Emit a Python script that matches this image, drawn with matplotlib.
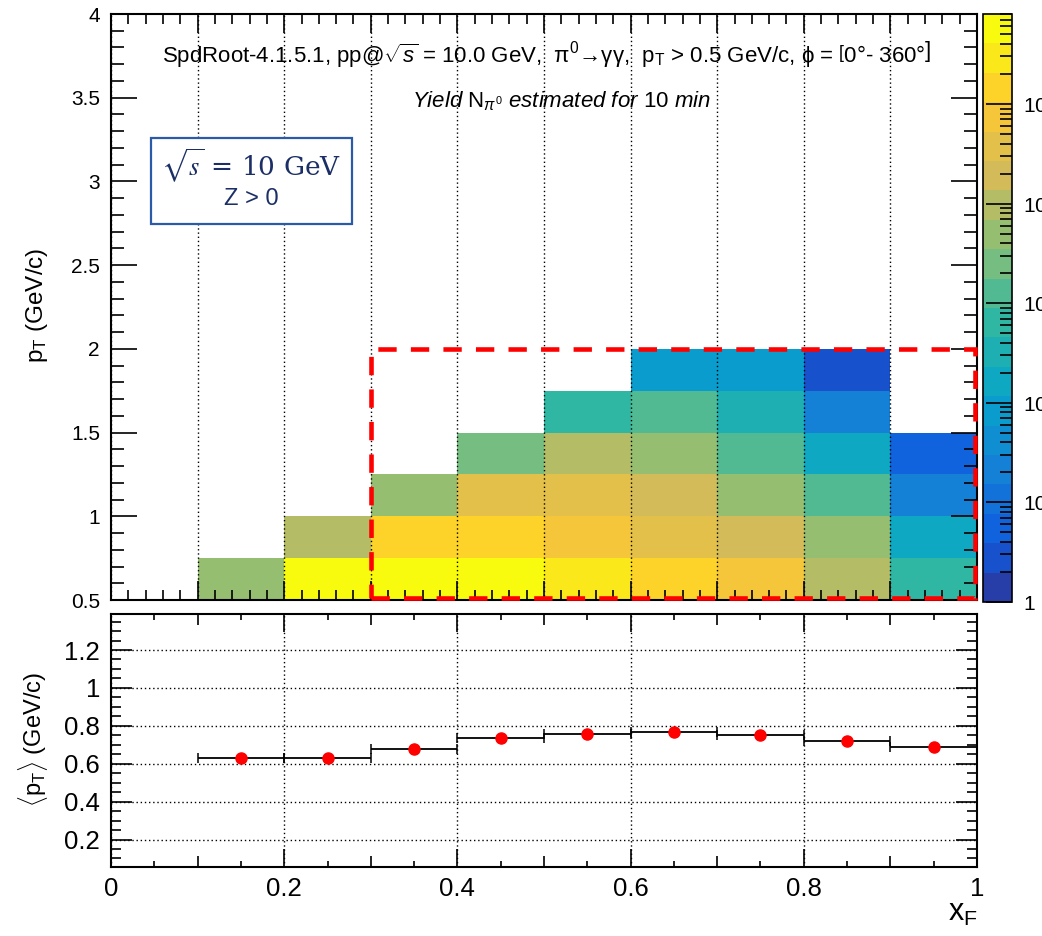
import numpy as np
import matplotlib
matplotlib.use("Agg")
import matplotlib.pyplot as plt
from matplotlib.colors import LinearSegmentedColormap, ListedColormap, LogNorm
from matplotlib.patches import Rectangle
from matplotlib.ticker import MultipleLocator, FixedLocator, FixedFormatter, LogLocator, FuncFormatter

plt.rcParams['font.family'] = ['Liberation Sans', 'DejaVu Sans']
plt.rcParams['mathtext.fontset'] = 'custom'
plt.rcParams['mathtext.rm'] = 'Liberation Sans'
plt.rcParams['mathtext.it'] = 'Liberation Sans:italic'
plt.rcParams['mathtext.bf'] = 'Liberation Sans:bold'

#> data: pi0 yield per (xF, pT) bin
xfEdges = [0.0, 0.1, 0.2, 0.3, 0.4, 0.5, 0.6, 0.7, 0.8, 0.9, 1.0]
ptEdges = [0.5, 0.75, 1.0, 1.25, 1.5, 1.75, 2.0]
nan = np.nan
yieldPt050 = [nan, 4900, 560000, 560000, 560000, 290000, 145000, 74000, 9600, 640]
yieldPt075 = [nan, nan, 9600, 145000, 145000, 74000, 37000, 19000, 4900, 160]
yieldPt100 = [nan, nan, nan, 4900, 37000, 37000, 19000, 4900, 1250, 21]
yieldPt125 = [nan, nan, nan, nan, 2500, 9600, 4900, 1250, 160, 5.5]
yieldPt150 = [nan, nan, nan, nan, nan, 640, 1250, 320, 21, nan]
yieldPt175 = [nan, nan, nan, nan, nan, nan, 83, 83, 2.8, nan]
zMax = 8.0e5

#> mean pT per xF bin
xfCenters = [0.15, 0.25, 0.35, 0.45, 0.55, 0.65, 0.75, 0.85, 0.95]
meanPt = [0.628, 0.628, 0.678, 0.737, 0.758, 0.767, 0.752, 0.721, 0.690]

# ROOT kBird palette, 20 contour levels
birdStops = [(0.2082, 0.1664, 0.5293), (0.0592, 0.3599, 0.8684), (0.0780, 0.5041, 0.8385),
             (0.0232, 0.6419, 0.7914), (0.1802, 0.7178, 0.6425), (0.5301, 0.7492, 0.4662),
             (0.8186, 0.7328, 0.3499), (0.9956, 0.7862, 0.1968), (0.9764, 0.9832, 0.0539)]
bird = LinearSegmentedColormap.from_list('bird', birdStops)
nLevels = 20
levelCmap = ListedColormap([bird((k + 1) / nLevels) for k in range(nLevels)])

W, H = 1042, 936
fig = plt.figure(figsize=(W / 100, H / 100), dpi=100)
fig.patch.set_facecolor('white')

def rect(x0, y0, x1, y1):
    return [x0 / W, 1 - y1 / H, (x1 - x0) / W, (y1 - y0) / H]

axTop = fig.add_axes(rect(111, 14, 977, 600))
axBot = fig.add_axes(rect(111, 614, 977, 867))
cax = fig.add_axes(rect(983, 14, 1012, 602))

frameLw = 1.5
dotted = (0, (1, 2))

#> top: 2D yield map
yieldGrid = np.ma.masked_invalid(np.array([yieldPt050, yieldPt075, yieldPt100,
                                           yieldPt125, yieldPt150, yieldPt175]))
mesh = axTop.pcolormesh(xfEdges, ptEdges, yieldGrid, cmap=levelCmap,
                        norm=LogNorm(vmin=1, vmax=zMax), zorder=1)
axTop.set_xlim(0, 1)
axTop.set_ylim(0.5, 4)
axTop.set_axisbelow(False)
axTop.xaxis.set_major_locator(MultipleLocator(0.1))
axTop.xaxis.set_minor_locator(MultipleLocator(0.02))
axTop.yaxis.set_major_locator(MultipleLocator(0.5))
axTop.yaxis.set_minor_locator(MultipleLocator(0.1))
axTop.yaxis.set_major_formatter(FuncFormatter(lambda v, p: f"{v:g}"))
axTop.tick_params(axis='x', which='both', labelbottom=False)
axTop.tick_params(which='both', direction='in', top=True, right=True, width=1.2)
axTop.tick_params(axis='y', which='major', length=19, labelsize=15, pad=8)
axTop.tick_params(axis='y', which='minor', length=9.5)
axTop.tick_params(axis='x', which='major', length=14)
axTop.tick_params(axis='x', which='minor', length=7)
axTop.grid(True, axis='x', which='major', color='black', linestyle=dotted, linewidth=1)
for sp in axTop.spines.values():
    sp.set_linewidth(frameLw)

# selection window (bottom/right sides sit just inside the frame)
axTop.add_patch(Rectangle((0.3, 0.512), 0.6977, 1.488, fill=False, edgecolor='#ff0000',
                          linewidth=3.3, linestyle=(0, (4, 3.1)), zorder=4, clip_on=False))

axTop.text(0.503, 0.931, r"SpdRoot-4.1.5.1, pp@$\sqrt{s}$ = 10.0 GeV,  $\mathrm{\pi^{0}}$→γγ,  "
           r"p$_{\mathrm{T}}$ > 0.5 GeV/c, ϕ = $\left[\mathrm{0°}\right.$- 360°$\left.\right]$",
           transform=axTop.transAxes, ha='center', va='center', fontsize=16)
axTop.text(0.52, 0.852, r"$\mathit{Yield}$ N$_{\pi^{0}}$ $\mathit{estimated\ for\ 10\ min}$",
           transform=axTop.transAxes, ha='center', va='center', fontsize=16)

# label box
boxX0, boxY0 = 151 / W, 1 - 224 / H
fig.patches.append(Rectangle((boxX0, boxY0), 201 / W, 86 / H, transform=fig.transFigure,
                             fill=True, facecolor='white', edgecolor='#2a5aa8', linewidth=1.6, zorder=5))
fig.text(251 / W, 1 - 166 / H, r"$\sqrt{s}$ = 10 GeV", ha='center', va='center', fontsize=19,
         color='#1b2f66', family='DejaVu Serif', math_fontfamily='stix', zorder=6)
fig.text(251 / W, 1 - 199 / H, "Z > 0", ha='center', va='center', fontsize=17,
         color='#1b2f66', zorder=6)

fig.text(37 / W, 1 - 305 / H, r"p$_{\mathrm{T}}$ (GeV/c)", rotation=90, ha='center', va='center', fontsize=17.5)

#> colour scale
cb = fig.colorbar(mesh, cax=cax)
cb.outline.set_linewidth(1.2)
cax.yaxis.set_ticks_position('right')
cax.yaxis.set_major_locator(FixedLocator([1, 10, 1e2, 1e3, 1e4, 1e5]))
cax.yaxis.set_major_formatter(FixedFormatter(["1", "10", r"$10^{2}$", r"$10^{3}$", r"$10^{4}$", r"$10^{5}$"]))
cax.yaxis.set_minor_locator(LogLocator(base=10, subs=np.arange(2, 10)))
cax.yaxis.set_minor_formatter(FuncFormatter(lambda v, p: ""))
cax.tick_params(which='both', direction='in', width=1.2, labelsize=15, pad=8)
cax.tick_params(which='major', length=19)
cax.tick_params(which='minor', length=9)

#> bottom: mean pT vs xF
axBot.errorbar(xfCenters, meanPt, xerr=0.05, fmt='o', color='black', ecolor='black',
               elinewidth=1.3, capsize=3.5, capthick=1.1, markersize=8,
               markerfacecolor='#ff0000', markeredgecolor='#ff0000', zorder=3)
axBot.set_xlim(0, 1)
axBot.set_ylim(0.055, 1.39)
axBot.xaxis.set_major_locator(MultipleLocator(0.2))
axBot.xaxis.set_minor_locator(MultipleLocator(0.05))
axBot.yaxis.set_major_locator(FixedLocator([0.2, 0.4, 0.6, 0.8, 1.0, 1.2]))
axBot.yaxis.set_minor_locator(MultipleLocator(0.05))
fmtG = FuncFormatter(lambda v, p: f"{v:g}")
axBot.xaxis.set_major_formatter(fmtG)
axBot.yaxis.set_major_formatter(fmtG)
axBot.tick_params(which='both', direction='in', top=True, right=True, width=1.2)
axBot.tick_params(axis='x', which='major', length=13, labelsize=18.5, pad=7)
axBot.tick_params(axis='x', which='minor', length=4.5)
axBot.tick_params(axis='y', which='major', length=15, labelsize=18.5, pad=8)
axBot.tick_params(axis='y', which='minor', length=7.5)
axBot.grid(True, which='major', color='black', linestyle=dotted, linewidth=1)
for sp in axBot.spines.values():
    sp.set_linewidth(frameLw)

# medium ticks at every 0.1
minorTicks = axBot.xaxis.get_minor_ticks()
for t, loc in zip(minorTicks, axBot.xaxis.get_minorticklocs()):
    if abs(loc * 10 - round(loc * 10)) < 1e-6:
        t.tick1line.set_markersize(8)
        t.tick2line.set_markersize(8)

fig.text(33 / W, 1 - 740 / H, r"$\langle$p$_{\mathrm{T}}$$\rangle$ (GeV/c)", rotation=90,
         ha='center', va='center', fontsize=17)
fig.text(978 / W, 1 - 928 / H, r"x$_{\mathrm{F}}$", ha='right', va='bottom', fontsize=22)

fig.savefig('out.png', dpi=100)
